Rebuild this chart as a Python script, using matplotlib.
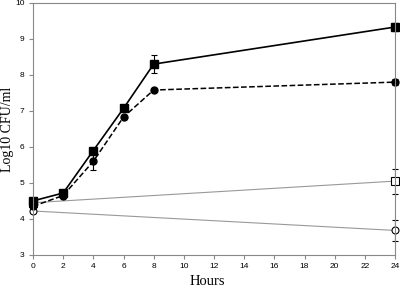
import matplotlib.pyplot as plt
import numpy as np

# hours
t_full = [0, 2, 4, 6, 8, 24]
t_ends = [0, 24]

# solid squares, solid line
sq_fill = [4.5, 4.72, 5.9, 7.07, 8.3, 9.33]
sq_fill_err = [0.08, 0.06, 0.06, 0.05, 0.25, 0.1]
# filled circles, dashed line
ci_fill = [4.35, 4.65, 5.6, 6.83, 7.58, 7.8]
ci_fill_err = [0.06, 0.05, 0.25, 0.05, 0.03, 0.08]
# open squares
sq_open = [4.45, 5.05]
sq_open_err = [0.05, 0.35]
# open circles
ci_open = [4.22, 3.68]
ci_open_err = [0.05, 0.3]

fig = plt.figure(figsize=(4, 2.91), dpi=100)
ax = fig.add_axes([0.0825, 0.124, 0.905, 0.866])

eb = dict(ecolor='k', elinewidth=0.8, capsize=2, capthick=0.8)
ax.errorbar(t_ends, sq_open, yerr=sq_open_err, color='#999999', lw=0.8,
            marker='s', ms=6, mfc='white', mec='k', mew=0.8, **eb)
ax.errorbar(t_ends, ci_open, yerr=ci_open_err, color='#999999', lw=0.8,
            marker='o', ms=5, mfc='white', mec='k', mew=0.8, **eb)
ax.errorbar(t_full, ci_fill, yerr=ci_fill_err, color='k', lw=1.1, ls='--',
            marker='o', ms=5, mfc='k', mec='k', **eb)
ax.errorbar(t_full, sq_fill, yerr=sq_fill_err, color='k', lw=1.2,
            marker='s', ms=5.5, mfc='k', mec='k', **eb)

ax.set_xlim(0, 24)
ax.set_ylim(3, 10)
ax.set_xticks(np.arange(0, 25, 2))
ax.set_yticks(np.arange(3, 11, 1))
for s in ax.spines.values():
    s.set_color('#888888')
    s.set_linewidth(0.8)
ax.tick_params(direction='out', length=3, width=0.8, color='#888888',
               labelsize=6, pad=3)
for lab in ax.get_xticklabels() + ax.get_yticklabels():
    lab.set_fontfamily('Liberation Sans')
ax.set_xlabel('Hours', fontfamily='Liberation Serif', fontsize=10.5)
ax.set_ylabel('Log10 CFU/ml', fontfamily='Liberation Serif', fontsize=10)
ax.xaxis.set_label_coords(0.483, -0.079)
ax.yaxis.set_label_coords(-0.052, 0.5)
for ln in ax.lines:
    ln.set_clip_on(False)

fig.savefig('out.png', dpi=100)
